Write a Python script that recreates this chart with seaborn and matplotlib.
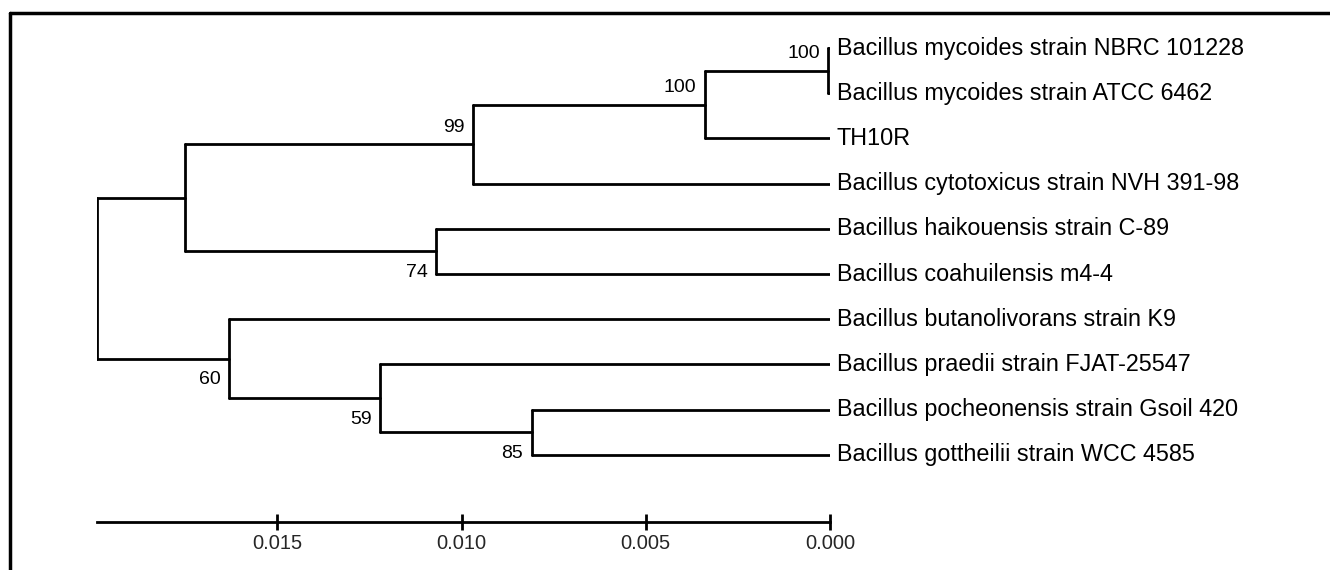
import numpy as np
import pandas as pd
import matplotlib
matplotlib.use("Agg")
import matplotlib.pyplot as plt
from matplotlib.lines import Line2D
import seaborn as sns

sns.set_theme(style="white")
plt.rcParams['font.family'] = ['Liberation Sans', 'DejaVu Sans']

# Leaves, top to bottom (all tips sit at distance 0)
leaf_names = [
    "Bacillus mycoides strain NBRC 101228",
    "Bacillus mycoides strain ATCC 6462",
    "TH10R",
    "Bacillus cytotoxicus strain NVH 391-98",
    "Bacillus haikouensis strain C-89",
    "Bacillus coahuilensis m4-4",
    "Bacillus butanolivorans strain K9",
    "Bacillus praedii strain FJAT-25547",
    "Bacillus pocheonensis strain Gsoil 420",
    "Bacillus gottheilii strain WCC 4585",
]

# Internal nodes: children ("L#" = leaf index, "N#" = internal node), height, bootstrap
node_children = [
    ("L0", "L1"),
    ("N0", "L2"),
    ("N1", "L3"),
    ("L4", "L5"),
    ("N2", "N3"),
    ("L8", "L9"),
    ("L7", "N5"),
    ("L6", "N6"),
    ("N4", "N7"),
]
node_height = [0.00005, 0.0034, 0.0097, 0.0107, 0.0175, 0.0081, 0.0122, 0.0163, 0.0199]
node_support = [100, 100, 99, 74, None, 85, 59, 60, None]
support_side = ["above", "above", "above", "below", None, "below", "below", "below", None]

scale_ticks = [0.015, 0.010, 0.005, 0.000]

# Resolve node positions
pos = {f"L{i}": (0.0, float(i)) for i in range(len(leaf_names))}
segments = []
for k, (a, b) in enumerate(node_children):
    h = node_height[k]
    ya, yb = pos[a][1], pos[b][1]
    pos[f"N{k}"] = (h, (ya + yb) / 2)
    segments.append([(h, ya), (h, yb)])
    segments.append([(h, ya), (pos[a][0], ya)])
    segments.append([(h, yb), (pos[b][0], yb)])

rows = []
for s, seg in enumerate(segments):
    for x, y in seg:
        rows.append({"x": x, "y": y, "seg": s})
tree_df = pd.DataFrame(rows)

fig = plt.figure(figsize=(13.3, 5.7), dpi=100)
ax = fig.add_axes([0.0727, 0.0847, 0.5514, 0.8802])

sns.lineplot(data=tree_df, x="x", y="y", units="seg", estimator=None, sort=False,
             color="black", linewidth=2.0, ax=ax, legend=False)

for i, name in enumerate(leaf_names):
    ax.annotate(name, xy=(0, i), xytext=(5, 0), textcoords="offset points",
                ha="left", va="center", fontsize=16.8, color="black", annotation_clip=False)

for k, sup in enumerate(node_support):
    if sup is None:
        continue
    x, y = pos[f"N{k}"]
    dy = 12 if support_side[k] == "above" else -15
    ax.annotate(str(sup), xy=(x, y), xytext=(-6, dy), textcoords="offset points",
                ha="right", va="center", fontsize=14, color="black", annotation_clip=False)

ax.set_xlim(max(node_height), 0)
ax.set_ylim(10.48, -0.62)
ax.set_xticks(scale_ticks)
ax.set_xticklabels([f"{t:.3f}" for t in scale_ticks], fontsize=14.5)
ax.set_yticks([])
ax.set_xlabel("")
ax.set_ylabel("")
for side in ["left", "top", "right"]:
    ax.spines[side].set_visible(False)
ax.spines["bottom"].set_color("black")
ax.spines["bottom"].set_linewidth(2.0)
ax.tick_params(axis="x", direction="inout", length=12, width=2.0, color="black",
               pad=3, bottom=True)
ax.patch.set_alpha(0)

# frame lines at top and left of the figure
fig.add_artist(Line2D([10 / 1330, 1], [1 - 13 / 570, 1 - 13 / 570], color="black",
                      linewidth=2.5, transform=fig.transFigure))
fig.add_artist(Line2D([10 / 1330, 10 / 1330], [0, 1 - 13 / 570], color="black",
                      linewidth=2.5, transform=fig.transFigure))

fig.savefig("out.png", dpi=100)
